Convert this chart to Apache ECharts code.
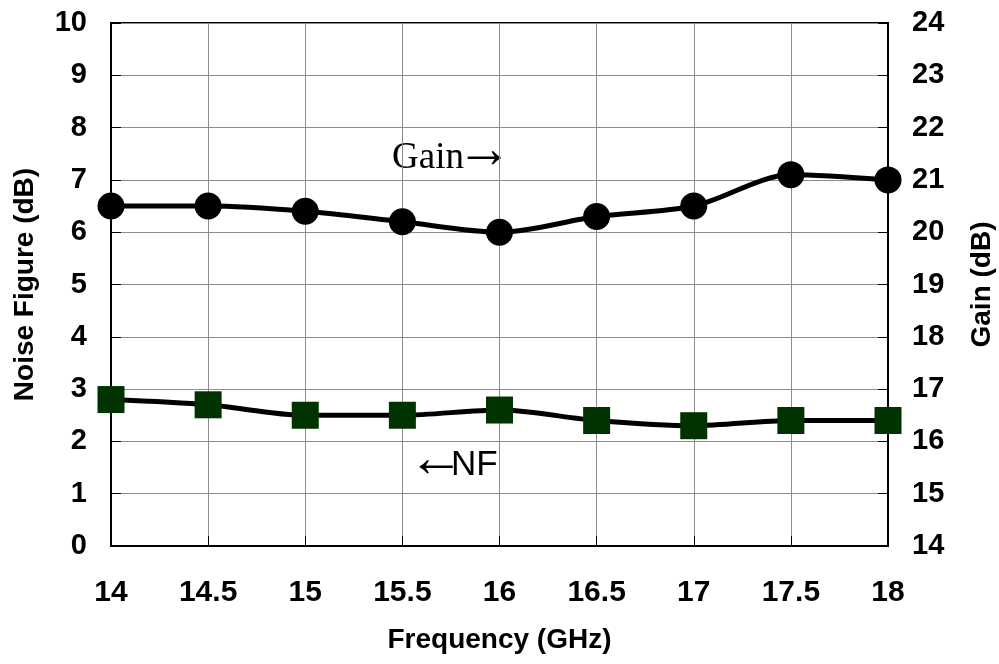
<!DOCTYPE html>
<html>
<head>
<meta charset="utf-8">
<script src="https://cdn.jsdelivr.net/npm/echarts@6/dist/echarts.min.js"></script>
<style>
  html, body { margin: 0; padding: 0; background: #fff; }
  #chart { width: 999px; height: 664px; }
</style>
</head>
<body>
<div id="chart"></div>
<script>
// frequency points (GHz)
var freq = [14, 14.5, 15, 15.5, 16, 16.5, 17, 17.5, 18];
// gain (dB), right axis
var gain = [20.5, 20.5, 20.4, 20.2, 20.0, 20.3, 20.5, 21.1, 21.0];
// noise figure (dB), left axis
var nf = [2.8, 2.7, 2.5, 2.5, 2.6, 2.4, 2.3, 2.4, 2.4];

function pairs(xs, ys) {
    return xs.map(function (x, i) { return [x, ys[i]]; });
}

var sans = 'Liberation Sans, Arial, sans-serif';
var serif = 'Liberation Serif, Times New Roman, serif';

var myChart = echarts.init(document.getElementById('chart'));

var yCommon = {
    type: 'value',
    interval: 1,
    nameLocation: 'middle',
    nameRotate: 90,
    nameTextStyle: { fontFamily: sans, fontWeight: 'bold', fontSize: 28, color: '#000' },
    axisLine: { show: true, lineStyle: { color: '#000', width: 2 } },
    axisTick: { show: true, inside: true, length: 10, lineStyle: { color: '#000', width: 1 } },
    axisLabel: { fontFamily: sans, fontWeight: 'bold', fontSize: 29, color: '#000', margin: 24 }
};

myChart.setOption({
    animation: false,
    backgroundColor: '#fff',
    grid: {
        left: 111, right: 111, top: 23, bottom: 118,
        outerBoundsMode: 'none',
        show: true, borderColor: '#000', borderWidth: 2
    },
    xAxis: {
        type: 'value',
        min: 14,
        max: 18,
        interval: 0.5,
        name: 'Frequency (GHz)',
        nameLocation: 'middle',
        nameGap: 80,
        nameTextStyle: { fontFamily: sans, fontWeight: 'bold', fontSize: 28, color: '#000' },
        axisLine: { show: true, lineStyle: { color: '#000', width: 2 } },
        axisTick: { show: true, inside: true, length: 10, lineStyle: { color: '#000', width: 1 } },
        axisLabel: { fontFamily: sans, fontWeight: 'bold', fontSize: 30, color: '#000', margin: 32 },
        splitLine: { show: true, lineStyle: { color: '#8c8c8c', width: 1 } }
    },
    yAxis: [
        Object.assign({}, yCommon, {
            position: 'left',
            min: 0, max: 10,
            name: 'Noise Figure (dB)',
            nameGap: 72,
            splitLine: { show: true, lineStyle: { color: '#8c8c8c', width: 1 } }
        }),
        Object.assign({}, yCommon, {
            position: 'right',
            min: 14, max: 24,
            name: 'Gain (dB)',
            nameGap: 80,
            splitLine: { show: false }
        })
    ],
    series: [
        {
            name: 'Gain',
            type: 'line',
            yAxisIndex: 1,
            smooth: 0.3,
            symbol: 'circle',
            symbolSize: 27,
            itemStyle: { color: '#000' },
            lineStyle: { color: '#000', width: 5 },
            data: pairs(freq, gain)
        },
        {
            name: 'NF',
            type: 'line',
            yAxisIndex: 0,
            smooth: 0.3,
            symbol: 'rect',
            symbolSize: 27,
            itemStyle: { color: '#003300' },
            lineStyle: { color: '#000', width: 5 },
            data: pairs(freq, nf)
        }
    ],
    graphic: [
        {
            type: 'text', x: 392, y: 158,
            style: { text: 'Gain', font: '37px ' + serif, fill: '#000', verticalAlign: 'middle' }
        },
        {
            type: 'text', x: 456, y: 152,
            style: { text: '\u2192', font: '56px ' + serif, fill: '#000', verticalAlign: 'middle' }
        },
        {
            type: 'text', x: 408, y: 461,
            style: { text: '\u2190', font: '56px ' + serif, fill: '#000', verticalAlign: 'middle' }
        },
        {
            type: 'text', x: 451, y: 465,
            style: { text: 'NF', font: '35px ' + sans, fill: '#000', verticalAlign: 'middle' }
        }
    ]
});
</script>
</body>
</html>
